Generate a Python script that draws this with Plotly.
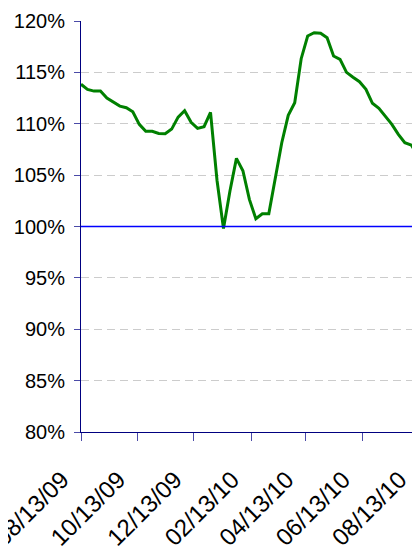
import pandas as pd
import plotly.graph_objects as go

start_date = "2009-08-13"
n_weeks = 53
values = [113.84, 113.35, 113.18, 113.18, 112.5, 112.08, 111.72, 111.56, 111.17, 109.94,
          109.26, 109.26, 109.06, 109.03, 109.48, 110.65, 111.27, 110.14, 109.55, 109.71,
          111.1, 104.5, 99.8, 103.45, 106.63, 105.43, 102.64, 100.75, 101.24, 101.24,
          104.68, 108.15, 110.82, 112.05, 116.33, 118.54, 118.86, 118.8, 118.37, 116.59,
          116.27, 115.0, 114.52, 114.09, 113.35, 111.99, 111.5, 110.68, 109.94, 108.97,
          108.15, 107.93, 106.88]
dates = pd.date_range(start_date, periods=n_weeks, freq="7D")

tick_dates = ["2009-08-13", "2009-10-13", "2009-12-13", "2010-02-13",
              "2010-04-13", "2010-06-13", "2010-08-13"]
tick_labels = ["08/13/09", "10/13/09", "12/13/09", "02/13/10",
               "04/13/10", "06/13/10", "08/13/10"]
y_ticks = [80, 85, 90, 95, 100, 105, 110, 115, 120]
y_labels = [f"{v}%" for v in y_ticks]

fig = go.Figure()
fig.add_trace(go.Scatter(x=dates, y=values, mode="lines",
                         line=dict(color="#008000", width=3), hoverinfo="skip"))

fig.add_shape(type="line", xref="paper", x0=0, x1=1, yref="y", y0=100, y1=100,
              line=dict(color="#0000FF", width=1.5), layer="above")

yfont = dict(family="Liberation Sans, Arial, sans-serif", size=20, color="#000000")
xfont = dict(family="Liberation Sans, Arial, sans-serif", size=24, color="#000000")

fig.update_layout(
    width=412, height=538,
    margin=dict(l=73, r=0, t=13, b=114),
    paper_bgcolor="white", plot_bgcolor="white",
    showlegend=False,
    font=yfont,
    xaxis=dict(
        type="date",
        range=["2009-08-13", "2010-08-14 10:00"],
        tickmode="array", tickvals=tick_dates, ticktext=tick_labels,
        tickangle=-45, ticks="outside", ticklen=8, tickcolor="#4a4aa8", tickwidth=1,
        showline=True, linecolor="#000080", linewidth=1,
        showgrid=False, zeroline=False, automargin=False,
        tickfont=xfont, ticklabelshift=-19, ticklabelstandoff=15,
        ticklabeloverflow="allow",
    ),
    yaxis=dict(
        range=[80, 120],
        tickmode="array", tickvals=y_ticks, ticktext=y_labels,
        ticks="outside", ticklen=6, tickcolor="#4a4aa8", tickwidth=1,
        showline=True, linecolor="#000080", linewidth=1,
        showgrid=True, gridcolor="#cccccc", griddash="8px,5px", gridwidth=1,
        zeroline=False, automargin=False,
        tickfont=yfont, ticklabelstandoff=5,
    ),
)

fig.write_html("out.html")
